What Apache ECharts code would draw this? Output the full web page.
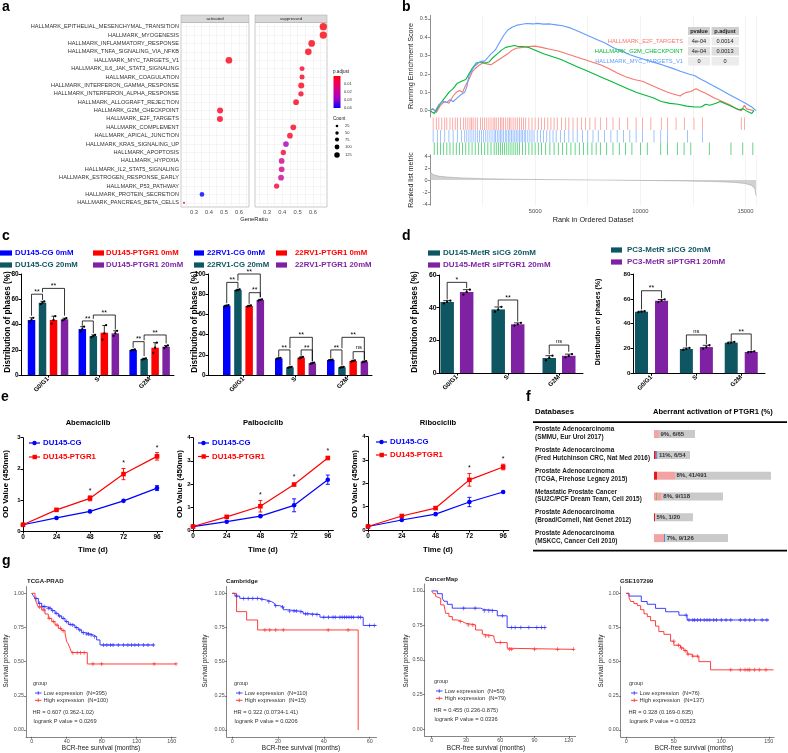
<!DOCTYPE html>
<html>
<head>
<meta charset="utf-8">
<title>Figure</title>
<script src="https://cdn.jsdelivr.net/npm/echarts@6.0.0/dist/echarts.min.js"></script>
<style>
html,body{margin:0;padding:0;background:#fff;}
#chart{width:788px;height:753px;}
</style>
</head>
<body>
<div id="chart"></div>
<script>
// ================= DATA =================
// ---- panel a ----
const aTerms = ['HALLMARK_EPITHELIAL_MESENCHYMAL_TRANSITION','HALLMARK_MYOGENESIS','HALLMARK_INFLAMMATORY_RESPONSE','HALLMARK_TNFA_SIGNALING_VIA_NFKB','HALLMARK_MYC_TARGETS_V1','HALLMARK_IL6_JAK_STAT3_SIGNALING','HALLMARK_COAGULATION','HALLMARK_INTERFERON_GAMMA_RESPONSE','HALLMARK_INTERFERON_ALPHA_RESPONSE','HALLMARK_ALLOGRAFT_REJECTION','HALLMARK_G2M_CHECKPOINT','HALLMARK_E2F_TARGETS','HALLMARK_COMPLEMENT','HALLMARK_APICAL_JUNCTION','HALLMARK_KRAS_SIGNALING_UP','HALLMARK_APOPTOSIS','HALLMARK_HYPOXIA','HALLMARK_IL2_STAT5_SIGNALING','HALLMARK_ESTROGEN_RESPONSE_EARLY','HALLMARK_P53_PATHWAY','HALLMARK_PROTEIN_SECRETION','HALLMARK_PANCREAS_BETA_CELLS'];
const aPanel = ['s','s','s','s','a','s','s','s','s','s','a','a','s','s','s','s','s','s','s','s','a','a'];
const aGeneRatio = [0.668,0.668,0.592,0.570,0.533,0.529,0.529,0.524,0.522,0.490,0.474,0.473,0.472,0.450,0.424,0.407,0.396,0.396,0.392,0.363,0.353,0.233];
const aCount = [190,190,168,165,168,107,107,143,118,132,143,143,132,132,132,118,132,132,132,118,96,5];
const aPadj = [0.001,0.001,0.002,0.002,0.002,0.004,0.003,0.002,0.004,0.003,0.003,0.003,0.003,0.004,0.027,0.006,0.017,0.018,0.019,0.006,0.040,0.016];
const aPadjTicks = [0.01,0.02,0.03,0.04];
const aCountTicks = [25,50,75,100,125];
const aRatioTicks = [0.3,0.4,0.5,0.6];

// ---- panel b ----
const bE2F = [[0,0],[150,0.01],[300,-0.01],[500,0.03],[700,0.05],[900,0.04],[1100,0.08],[1250,0.1],[1400,0.11],[1550,0.1],[1700,0.14],[1850,0.17],[2000,0.21],[2150,0.23],[2300,0.245],[2500,0.26],[2700,0.255],[2900,0.25],[3100,0.265],[3300,0.28],[3500,0.295],[3700,0.31],[3900,0.33],[4100,0.34],[4400,0.345],[4700,0.35],[5000,0.352],[5300,0.345],[5700,0.335],[6100,0.325],[6500,0.31],[6900,0.295],[7300,0.28],[7700,0.265],[8100,0.25],[8500,0.23],[8900,0.205],[9300,0.185],[9700,0.17],[10100,0.16],[10500,0.14],[10900,0.12],[11300,0.1],[11600,0.09],[11900,0.08],[12000,0.09],[12200,0.1],[12400,0.105],[12650,0.12],[12800,0.11],[13100,0.095],[13500,0.07],[13900,0.05],[14300,0.03],[14550,0.01],[14800,0.0],[14950,0.03],[15050,0.01],[15400,0.0]];
const bG2M = [[0,0],[200,-0.015],[350,0.01],[500,0.04],[700,0.07],[900,0.1],[1100,0.12],[1300,0.15],[1500,0.16],[1700,0.17],[1850,0.2],[2000,0.23],[2200,0.26],[2400,0.265],[2600,0.26],[2800,0.265],[3000,0.29],[3200,0.31],[3400,0.33],[3600,0.345],[3800,0.35],[4000,0.355],[4200,0.35],[4400,0.35],[4700,0.345],[5000,0.33],[5400,0.31],[5800,0.295],[6200,0.28],[6600,0.26],[7000,0.24],[7400,0.22],[7800,0.2],[8200,0.18],[8600,0.16],[9000,0.14],[9400,0.12],[9800,0.1],[10200,0.085],[10600,0.07],[11000,0.05],[11400,0.04],[11800,0.035],[12200,0.025],[12600,0.02],[12900,0.02],[13100,0.035],[13300,0.03],[13600,0.04],[13800,0.05],[14100,0.035],[14400,0.02],[14700,0.005],[14900,0.01],[15100,-0.005],[15300,-0.015],[15400,0.0]];
const bMYC = [[0,0],[100,0.01],[250,0.0],[400,0.03],[600,0.05],[800,0.045],[950,0.06],[1100,0.05],[1300,0.07],[1500,0.09],[1650,0.1],[1750,0.13],[1850,0.19],[1950,0.21],[2100,0.24],[2300,0.26],[2450,0.27],[2600,0.27],[2750,0.29],[2900,0.31],[3100,0.33],[3300,0.37],[3500,0.41],[3700,0.44],[3900,0.455],[4100,0.465],[4300,0.47],[4600,0.475],[4900,0.473],[5100,0.476],[5400,0.472],[5700,0.473],[6000,0.468],[6300,0.463],[6700,0.45],[7100,0.43],[7500,0.41],[7900,0.39],[8300,0.37],[8700,0.345],[9100,0.325],[9500,0.305],[9900,0.29],[10300,0.275],[10700,0.262],[11100,0.248],[11500,0.232],[11900,0.215],[12300,0.2],[12600,0.19],[12750,0.18],[12900,0.17],[13000,0.165],[13400,0.14],[13800,0.115],[14200,0.09],[14600,0.065],[15000,0.04],[15300,0.02],[15500,0.0]];
const bRugE2F = [150,300,420,560,700,800,950,1080,1200,1300,1450,1600,1700,1800,1900,1980,2050,2150,2250,2400,2500,2600,2700,2800,2900,3000,3080,3150,3250,3350,3420,3500,3600,3700,3780,3850,3950,4050,4150,4250,4350,4450,4550,4700,4850,5000,5150,5300,5450,5600,5750,5900,6050,6250,6450,6600,6800,7000,7200,7400,7600,7850,8100,8400,8700,9000,9400,9800,10100,10500,11000,11300,11700,12100,12550,12950,14800,14950];
const bRugMYC = [150,350,500,700,900,1100,1300,1500,1650,1750,1850,1950,2050,2150,2250,2350,2450,2550,2650,2750,2850,2950,3050,3120,3200,3280,3350,3420,3500,3580,3650,3730,3800,3880,3950,4030,4100,4180,4250,4330,4400,4480,4550,4650,4750,4850,4950,5100,5250,5400,5550,5700,5850,6000,6200,6400,6600,6800,7000,7250,7500,7750,8000,8300,8600,8900,9200,9500,9800,10100,10650,10970,11290,12240,12960];
const bRugG2M = [200,350,500,650,800,950,1100,1250,1400,1550,1700,1850,2000,2150,2300,2450,2600,2750,2900,3050,3150,3250,3350,3450,3550,3650,3750,3850,3950,4050,4150,4250,4400,4550,4700,4850,5000,5150,5300,5500,5700,5900,6100,6300,6500,6700,6900,7100,7300,7500,7700,7900,8100,8400,8700,9000,9300,9600,10010,10330,10970,11290,11760,12080,12400,13280,14310,14870,15350];
const bMetric = [[0,1.6],[50,1.2],[150,0.9],[400,0.65],[800,0.5],[1500,0.35],[2500,0.22],[4000,0.12],[6000,0.05],[8000,0.0],[10000,-0.07],[12000,-0.15],[13500,-0.25],[14500,-0.4],[15000,-0.6],[15300,-0.9],[15450,-1.5],[15500,-2.6]];
const bTableHead = ['pvalue','p.adjust'];
const bTableRows = [['HALLMARK_E2F_TARGETS','4e-04','0.0014'],['HALLMARK_G2M_CHECKPOINT','4e-04','0.0013'],['HALLMARK_MYC_TARGETS_V1','0','0']];
const bESTicks = [0,0.1,0.2,0.3,0.4,0.5];
const bMetricTicks = [-4,-2,0,2,4];

// ---- panels c, d (replicate values per phase) ----
const phaseCats = ['G0/G1','S','G2M'];
const du145CG0  = [[41.8,43.6,45.3],[34.5,36.4,38.3],[19.4,19.8,20.2]];
const du145CG20 = [[56.1,57.3,58.3],[29.9,30.9,31.7],[12.2,12.7,13.2]];
const du145PT0  = [[40.6,43.6,46.6],[28.0,33.0,39.5],[17.6,21.6,25.6]];
const du145PT20 = [[43.2,44.1,45.0],[31.0,33.0,35.0],[21.4,22.4,23.4]];
const rv1CG0  = [[68.1,68.6,69.1],[16.0,16.5,17.0],[14.5,14.9,15.3]];
const rv1CG20 = [[83.6,84.2,84.8],[7.1,7.6,8.1],[7.1,7.6,8.1]];
const rv1PT0  = [[67.7,68.3,68.9],[16.4,17.2,17.9],[13.3,13.9,14.5]];
const rv1PT20 = [[73.7,74.3,74.9],[11.0,11.6,12.2],[12.6,13.2,13.8]];
const du145MetCG = [[42.6,43.5,44.3],[37.5,38.8,40.5],[7.8,9.2,10.6]];
const du145MetPT = [[48.0,49.6,51.0],[29.0,29.8,30.7],[9.6,10.4,11.6]];
const pc3MetCG = [[49.2,49.6,50.0],[18.8,19.6,20.4],[24.2,24.7,25.2]];
const pc3MetPT = [[57.3,58.3,59.5],[19.8,21.0,22.6],[16.8,17.2,17.6]];
// brackets: [phase, barA, barB, top, legA end, legB end, label]
const brDU145 = [[0,0,1,64,47,59.5,'**'],[0,1,3,68.6,65.5,47,'**'],[1,0,1,42.8,39,33,'**'],[1,1,3,47.5,44.5,36,'**'],[2,0,1,26.4,21.5,15,'**'],[2,1,3,31.7,27.5,25,'**']];
const br22RV1 = [[0,0,1,91.7,71,86,'**'],[0,1,3,100,93.5,77,'**'],[0,2,3,81.5,70.5,77,'**'],[1,0,1,24.8,18,9.5,'**'],[1,1,3,37.3,26.5,13.5,'**'],[1,2,3,24.8,19,13.5,'**'],[2,0,1,24.8,16.5,9.5,'**'],[2,1,3,37.3,26.5,15,'**'],[2,2,3,23.1,15.5,15,'ns']];
const brDU145Met = [[0,0,1,55.5,45,52,'*'],[1,0,1,44.7,41,31.5,'**'],[2,0,1,17.1,11.5,13,'ns']];
const brPC3Met = [[0,0,1,66.5,51.5,60.5,'**'],[1,0,1,30.9,21.5,23.5,'ns'],[2,0,1,31.7,26,18.5,'**']];

// ---- panel e ----
const eTime = [0,24,48,72,96];
const abeCG = [0.2,0.42,0.63,0.97,1.38],  abeCGsd = [0.02,0.02,0.03,0.05,0.08];
const abePT = [0.2,0.68,1.05,1.83,2.4],   abePTsd = [0.02,0.03,0.08,0.18,0.12], abeSig = [0,0,1,1,1];
const palCG = [0.15,0.36,0.6,1.07,2.18],  palCGsd = [0.02,0.02,0.03,0.28,0.2];
const palPT = [0.15,0.57,1.03,1.97,3.12], palPTsd = [0.02,0.03,0.25,0.08,0.06], palSig = [0,0,1,1,1];
const ribCG = [0.15,0.43,0.68,1.2,1.63],  ribCGsd = [0.02,0.02,0.03,0.2,0.06];
const ribPT = [0.15,0.6,0.94,2.15,2.7],   ribPTsd = [0.02,0.03,0.04,0.27,0.12], ribSig = [0,0,0,1,1];

// ---- panel f ----
const fDatasets = [['Prostate Adenocarcinoma','(SMMU, Eur Urol 2017)'],['Prostate Adenocarcinoma','(Fred Hutchinson CRC, Nat Med 2016)'],['Prostate Adenocarcinoma','(TCGA, Firehose Legacy 2015)'],['Metastatic Prostate Cancer','(SU2C/PCF Dream Team, Cell 2015)'],['Prostate Adenocarcinoma','(Broad/Cornell, Nat Genet 2012)'],['Prostate Adenocarcinoma','(MSKCC, Cancer Cell 2010)']];
const fPercent = ['9%','11%','8%','8%','5%','7%'];
const fAltered = [6,6,41,9,1,9];
const fTotal = [65,54,491,118,20,126];
const fBarLength = [41,36,117,69,39,74];
const fSegments = [[[5,'#f4a3a3']],[[1.5,'#e41a1c'],[1,'#6a3d9a'],[1,'#377eb8']],[[3,'#e41a1c'],[18,'#f4a3a3']],[[2,'#f4a3a3'],[0.8,'#4daf4a'],[5,'#f4a3a3']],[[1,'#e41a1c']],[[10,'#f4a3a3'],[1.2,'#4a90d9']]];

// ---- panel g (Kaplan-Meier: [time, survival]) ----
const tcgaLow  = [[0,1],[1.9,0.983],[3.8,0.963],[7.6,0.927],[11.4,0.902],[17.1,0.89],[22.9,0.873],[26.7,0.854],[30.5,0.834],[34.3,0.817],[38.1,0.793],[41.9,0.773],[45.7,0.768],[49.5,0.749],[53.3,0.732],[57.1,0.712],[61,0.702],[66.7,0.695],[70.5,0.683],[74.3,0.659],[78.1,0.622],[140,0.622]];
const tcgaHigh = [[0,1],[3.8,0.963],[5.7,0.927],[7.6,0.9],[11.4,0.878],[15.2,0.849],[19,0.817],[22.9,0.793],[26.7,0.768],[30.5,0.744],[34.3,0.727],[38.1,0.707],[40,0.646],[41.9,0.629],[43.8,0.598],[45.7,0.566],[63.6,0.483],[165,0.483]];
const tcgaLowCens  = [5,9,13,15,19,21,24,28,32,36,40,44,47,51,55,59,63,65,68,72,82,86,90,93,99,105,110,114,118,122,128,133,139];
const tcgaHighCens = [9,14,20,25,29,33,36,47,52,56,60,70,80,140,165];
const camLow  = [[0,1],[1.2,0.98],[3.3,0.963],[12.1,0.956],[13.5,0.951],[15,0.939],[17.2,0.925],[18.6,0.91],[20.8,0.9],[22.3,0.88],[24,0.87],[29.5,0.865],[31,0.85],[34.6,0.845],[38.3,0.825],[57.2,0.765],[63,0.765]];
const camHigh = [[0,1],[1.9,0.866],[6.3,0.805],[11.1,0.732],[55,0]];
const camLowCens  = [2,5,7,9,11,13,16,19,22,25,27,28,30,32,33,35,37,40,42,44,45,47,48,49,50,51,52,53,55,56,60,62];
const camHighCens = [14.3,16.4,19,22.3,41.9,50.6];
const cmLow  = [[0,1],[5,0.98],[9.3,0.947],[10.8,0.925],[13.7,0.903],[18,0.875],[42.8,0.865],[45.7,0.857],[57.4,0.82],[66,0.735],[99.6,0.735]];
const cmHigh = [[0,1],[1.5,0.98],[3.5,0.96],[5,0.947],[7.9,0.899],[10.8,0.886],[12.2,0.838],[15.1,0.814],[18.1,0.79],[22.4,0.778],[26.8,0.766],[29.7,0.754],[38.4,0.717],[44.3,0.688],[45.7,0.674],[54.5,0.657],[55.9,0.626],[66.1,0.585],[67,0.577],[124.4,0.577]];
const cmLowCens  = [28,38,46,50,53,62,70,73,78,85,92,96,99];
const cmHighCens = [25,32,36,47,50,60,68,70,90,110,124];
const gseLow  = [[0,1],[2.8,0.98],[15.8,0.94],[22,0.92],[30.8,0.89],[41.4,0.865],[55.4,0.84],[64,0.805],[150,0.805]];
const gseHigh = [[0,1],[2.8,0.97],[4.6,0.94],[8.1,0.925],[11.6,0.91],[15.1,0.88],[18.6,0.85],[22.1,0.83],[25.6,0.8],[30.8,0.76],[34.3,0.72],[39.6,0.7],[46.6,0.65],[50.1,0.62],[57.1,0.6],[60.6,0.58],[64.1,0.555],[69.4,0.54],[76.4,0.5],[88.7,0.44],[155,0.44]];
const gseLowCens  = [63,66,70,72,75,78,82,85,88,92,95,100,105,110,120,125,130,135,143,148];
const gseHighCens = [50,55,58,62,65,70,75,110,120,125,128,130,135,140,147];
const kmYTicks = [0,0.25,0.5,0.75,1];

// ================= BUILD =================
const FONT = '"Liberation Sans", Arial, Helvetica, sans-serif';
const grids = [], xAxes = [], yAxes = [], series = [], graphics = [];
const BLUE = '#0000ff', TEAL = '#0d5662', RED = '#ff0000', PURPLE = '#7e22a3';

function mean(a){ return a.reduce((s,v)=>s+v,0)/a.length; }
function sdev(a){ const m = mean(a); return Math.sqrt(a.reduce((s,v)=>s+(v-m)*(v-m),0)/(a.length-1)); }
function addGrid(g, xa, ya){
  grids.push(Object.assign({outerBoundsMode:'none', containLabel:false}, g));
  const i = grids.length - 1;
  xAxes.push(Object.assign({gridIndex:i}, xa));
  yAxes.push(Object.assign({gridIndex:i}, ya));
  return i;
}
function T(x, y, text, st, rot){
  const el = {type:'text', x:x, y:y, z:100, silent:true,
    style:Object.assign({text:text, fontFamily:FONT, fontSize:6, fill:'#000', align:'left', verticalAlign:'middle'}, st || {})};
  if (rot) el.rotation = rot;
  graphics.push(el);
}
function R(x, y, w, h, fill, extra){
  graphics.push(Object.assign({type:'rect', z:99, silent:true, shape:{x:x, y:y, width:w, height:h}, style:{fill:fill}}, extra || {}));
}
const V = Math.PI/2;

// ---------- panel a ----------
const aSize = c => 2 + 0.028*c;
const aColors = ['#ff0000','#ec0062','#c8009c','#9200cc','#0000ff'];
const aIdx = aTerms.map((_, i) => i);
function aGrid(left, width, xmin, xmax, showLabels){
  return addGrid({left:left, top:22.5, width:width, height:184.5, show:true, borderColor:'#a6a6a6', borderWidth:0.6, backgroundColor:'#fff'},
    {type:'value', min:xmin, max:xmax,
     axisLine:{show:false, onZero:false}, axisTick:{show:false, customValues:[0.25,0.3,0.35,0.4,0.45,0.5,0.55,0.6,0.65]},
     axisLabel:{customValues:aRatioTicks, formatter:v=>v.toFixed(1), fontSize:5.8, color:'#4d4d4d', margin:2, fontFamily:FONT},
     splitLine:{show:true, lineStyle:{color:'#ebebeb', width:0.5}}},
    {type:'value', inverse:true, min:-0.5, max:21.5,
     axisLine:{show:false, onZero:false}, axisTick:{show:false, customValues:aIdx},
     axisLabel:{show:showLabels, customValues:aIdx, formatter:v=>aTerms[Math.round(v)], fontSize:5.6, color:'#333', margin:2, fontFamily:FONT},
     splitLine:{show:true, lineStyle:{color:'#ebebeb', width:0.5}}});
}
const aG1 = aGrid(181, 68, 0.213, 0.667, true);
const aG2 = aGrid(255, 72, 0.222, 0.692, false);
const aSer = [];
[['a', aG1], ['s', aG2]].forEach(([p, gi]) => {
  const d = [];
  aTerms.forEach((t, i) => { if (aPanel[i] === p) d.push([aGeneRatio[i], i, aPadj[i], aCount[i]]); });
  aSer.push(series.length);
  series.push({type:'scatter', xAxisIndex:gi, yAxisIndex:gi, data:d, symbolSize:v => aSize(v[3]), z:5});
});
R(181, 15, 68, 7.5, '#d9d9d9', {style:{fill:'#d9d9d9', stroke:'#a6a6a6', lineWidth:0.5}});
R(255, 15, 72, 7.5, '#d9d9d9', {style:{fill:'#d9d9d9', stroke:'#a6a6a6', lineWidth:0.5}});
T(215, 18.8, 'activated', {fontSize:4.3, align:'center', fill:'#1a1a1a'});
T(291, 18.8, 'suppressed', {fontSize:4.3, align:'center', fill:'#1a1a1a'});
T(254, 219, 'GeneRatio', {fontSize:5.8, align:'center', fill:'#1a1a1a'});
T(333, 72, 'p.adjust', {fontSize:4.6, fill:'#1a1a1a'});
graphics.push({type:'rect', z:99, silent:true, shape:{x:333.5, y:76, width:7, height:32},
  style:{fill:new echarts.graphic.LinearGradient(0,0,0,1, aColors.map((c,i)=>({offset:i/(aColors.length-1), color:c})))}});
aPadjTicks.forEach(v => T(344, 76 + v/0.04*32, String(v), {fontSize:4, fill:'#333'}));
T(333, 119, 'Count', {fontSize:4.6, fill:'#1a1a1a'});
aCountTicks.forEach((c, i) => {
  const cy = [126, 133, 139.5, 147, 155][i];
  graphics.push({type:'circle', z:99, silent:true, shape:{cx:337, cy:cy, r:aSize(c)/2}, style:{fill:'#000'}});
  T(345, cy, String(c), {fontSize:4, fill:'#333'});
});

// ---------- panel b ----------
const bTop = addGrid({left:430, top:15.3, width:326, height:101.8},
  {type:'value', min:0, max:15500, interval:2500, axisLine:{show:false, onZero:false}, axisTick:{show:false}, axisLabel:{show:false}, splitLine:{show:true, lineStyle:{color:'#ebebeb', width:0.6}}},
  {type:'value', min:-0.035, max:0.52, axisLine:{show:true, onZero:false, lineStyle:{color:'#4d4d4d', width:0.6}},
   axisTick:{show:true, length:2, customValues:bESTicks, lineStyle:{color:'#4d4d4d', width:0.6}},
   axisLabel:{customValues:bESTicks, formatter:v=>v.toFixed(1), fontSize:5.5, color:'#4d4d4d', margin:2.5, fontFamily:FONT}, splitLine:{show:false}});
[[bE2F,'#f8766d'],[bG2M,'#00ba38'],[bMYC,'#619cff']].forEach(([d, c]) => series.push({type:'line', xAxisIndex:bTop, yAxisIndex:bTop, data:d, symbol:'none', lineStyle:{color:c, width:1.1}, itemStyle:{color:c}, z:3}));
const bRug = addGrid({left:430, top:117.5, width:326, height:37.5},
  {type:'value', min:0, max:15500, show:false, axisLine:{onZero:false}}, {type:'value', min:0, max:3, show:false, axisLine:{onZero:false}});
[[bRugE2F, 2.5, '#f8766d'], [bRugMYC, 1.5, '#619cff'], [bRugG2M, 0.5, '#00ba38']].forEach(([r, y, c]) =>
  series.push({type:'scatter', xAxisIndex:bRug, yAxisIndex:bRug, data:r.map(v => [v, y]), symbol:'rect', symbolSize:[0.8, 12.3], itemStyle:{color:c, opacity:0.75}}));
const bMet = addGrid({left:430, top:154.8, width:326, height:50.4},
  {type:'value', min:0, max:15500, interval:2500, axisLine:{show:false, onZero:false}, axisTick:{show:false},
   axisLabel:{formatter:v => (v > 0 && v % 5000 === 0) ? String(v) : '', fontSize:5.8, color:'#4d4d4d', margin:3, fontFamily:FONT},
   splitLine:{show:true, lineStyle:{color:'#ebebeb', width:0.6}}},
  {type:'value', min:-4.2, max:4.2, axisLine:{show:true, onZero:false, lineStyle:{color:'#4d4d4d', width:0.6}},
   axisTick:{show:true, length:2, customValues:bMetricTicks, lineStyle:{color:'#4d4d4d', width:0.6}},
   axisLabel:{customValues:bMetricTicks, fontSize:5.5, color:'#4d4d4d', margin:2.5, fontFamily:FONT}, splitLine:{show:false}});
series.push({type:'line', xAxisIndex:bMet, yAxisIndex:bMet, data:bMetric, symbol:'none', lineStyle:{color:'#9a9a9a', width:0.5}, areaStyle:{color:'#bdbdbd', origin:0}});
T(411, 66, 'Running Enrichment Score', {fontSize:7.2, align:'center', fill:'#1a1a1a'}, V);
T(411, 180, 'Ranked list metric', {fontSize:7, align:'center', fill:'#1a1a1a'}, V);
T(593, 220, 'Rank in Ordered Dataset', {fontSize:7.3, align:'center', fill:'#1a1a1a'});
R(688, 27, 22, 8, '#cfcfcf'); R(711.5, 27, 27.5, 8, '#cfcfcf');
T(699, 31, bTableHead[0], {fontSize:5.6, fontWeight:'bold', align:'center', fill:'#1a1a1a'});
T(725, 31, bTableHead[1], {fontSize:5.6, fontWeight:'bold', align:'center', fill:'#1a1a1a'});
const bRowCol = ['#f8766d', '#00ba38', '#619cff'];
bTableRows.forEach((r, i) => {
  const y = 37 + i*10;
  const bg = i === 1 ? '#dedede' : '#ececec';
  R(688, y, 22, 8.5, bg); R(711.5, y, 27.5, 8.5, bg);
  T(683, y + 4.3, r[0], {fontSize:5.8, align:'right', fill:bRowCol[i]});
  T(699, y + 4.3, r[1], {fontSize:5.6, align:'center', fill:'#1a1a1a'});
  T(725, y + 4.3, r[2], {fontSize:5.6, align:'center', fill:'#1a1a1a'});
});

// ---------- panels c, d ----------
function barPanel(p){
  const gi = addGrid({left:p.left, top:p.top, width:p.width, height:p.height},
    {type:'value', min:p.xmin, max:p.xmax, axisLine:{show:true, onZero:false, lineStyle:{color:'#000', width:1}},
     axisTick:{show:true, customValues:[0,1,2], length:2.5, lineStyle:{color:'#000', width:1}},
     axisLabel:{customValues:[0,1,2], formatter:v => phaseCats[Math.round(v)], rotate:45, fontSize:6.3, fontWeight:'bold', color:'#000', margin:3, fontFamily:FONT},
     splitLine:{show:false}},
    {type:'value', min:0, max:p.ymax, interval:20, axisLine:{show:true, onZero:false, lineStyle:{color:'#000', width:1}},
     axisTick:{show:true, length:2.5, lineStyle:{color:'#000', width:1}},
     axisLabel:{fontSize:p.yfs || 6.4, fontWeight:'bold', color:'#000', margin:2.5, fontFamily:FONT}, splitLine:{show:false}});
  const n = p.groups.length;
  p.groups.forEach((g, k) => {
    const data = g.reps.map((r, c) => [c, mean(r), sdev(r), r[0], r[1], r[2]]);
    series.push({type:'custom', xAxisIndex:gi, yAxisIndex:gi, encode:{x:0, y:1}, data:data, z:3,
      renderItem:(params, api) => {
        const c = api.value(0), m = api.value(1), s = api.value(2);
        const base = api.coord([c, 0]), top = api.coord([c, m]), et = api.coord([c, m + s]);
        const cx = base[0] + (k - (n - 1)/2) * p.step;
        const ch = [
          {type:'rect', shape:{x:cx - p.bw/2, y:top[1], width:p.bw, height:base[1] - top[1]}, style:{fill:g.c}},
          {type:'line', shape:{x1:cx, y1:top[1], x2:cx, y2:et[1]}, style:{stroke:'#000', lineWidth:0.8}},
          {type:'line', shape:{x1:cx - p.bw*0.28, y1:et[1], x2:cx + p.bw*0.28, y2:et[1]}, style:{stroke:'#000', lineWidth:0.8}}
        ];
        [3, 4, 5].forEach((d, j) => {
          const pt = api.coord([c, api.value(d)]);
          ch.push({type:'circle', shape:{cx:cx + (j - 1)*p.bw*0.24, cy:pt[1], r:1.15}, style:{fill:'#000'}});
        });
        return {type:'group', children:ch};
      }});
  });
  series.push({type:'custom', xAxisIndex:gi, yAxisIndex:gi, encode:{x:0, y:1}, data:p.brackets.map(b => [b[0], b[3]]), z:4,
    renderItem:(params, api) => {
      const b = p.brackets[params.dataIndex];
      const xc = api.coord([b[0], 0])[0];
      const xi = xc + (b[1] - (n - 1)/2) * p.step, xj = xc + (b[2] - (n - 1)/2) * p.step;
      const yt = api.coord([b[0], b[3]])[1], yi = api.coord([b[0], b[4]])[1], yj = api.coord([b[0], b[5]])[1];
      const ns = b[6] === 'ns';
      return {type:'group', children:[
        {type:'polyline', shape:{points:[[xi, yi], [xi, yt], [xj, yt], [xj, yj]]}, style:{stroke:'#000', fill:null, lineWidth:0.8}},
        {type:'text', style:{text:b[6], x:(xi + xj)/2, y:yt - (ns ? 0.8 : -1.2), align:'center', verticalAlign:'bottom', fontSize:ns ? 5.8 : 7, fontFamily:FONT, fill:'#000'}}
      ]};
    }});
}
barPanel({left:21, top:274, width:153, height:101, xmin:-0.532, xmax:2.48, ymax:80, bw:7.5, step:11,
  groups:[{c:BLUE, reps:du145CG0}, {c:TEAL, reps:du145CG20}, {c:RED, reps:du145PT0}, {c:PURPLE, reps:du145PT20}], brackets:brDU145});
barPanel({left:208, top:274, width:164, height:101, xmin:-0.683, xmax:2.47, ymax:100, bw:7.5, step:11.2,
  groups:[{c:BLUE, reps:rv1CG0}, {c:TEAL, reps:rv1CG20}, {c:RED, reps:rv1PT0}, {c:PURPLE, reps:rv1PT20}], brackets:br22RV1});
barPanel({left:439, top:275, width:144, height:98, xmin:-0.351, xmax:2.47, ymax:60, bw:13.5, step:19.5, yfs:6.8,
  groups:[{c:TEAL, reps:du145MetCG}, {c:PURPLE, reps:du145MetPT}], brackets:brDU145Met});
barPanel({left:633, top:274, width:132, height:99.3, xmin:-0.413, xmax:2.53, ymax:80, bw:13, step:20, yfs:6.2,
  groups:[{c:TEAL, reps:pc3MetCG}, {c:PURPLE, reps:pc3MetPT}], brackets:brPC3Met});
function legBox(x, y, w, col, text, tx, fs){
  R(x, y - 2.6, w, 5.2, col);
  T(tx, y, text, {fontSize:fs || 7.8, fontWeight:'bold', fill:col});
}
legBox(0, 253, 12, BLUE, 'DU145-CG 0mM', 15); legBox(93, 253, 11, RED, 'DU145-PTGR1 0mM', 106);
legBox(0, 265, 12, TEAL, 'DU145-CG 20mM', 15); legBox(93, 265, 11, PURPLE, 'DU145-PTGR1 20mM', 106);
legBox(194, 253, 10, BLUE, '22RV1-CG 0mM', 207); legBox(276, 253, 11, RED, '22RV1-PTGR1 0mM', 295);
legBox(194, 265, 10, TEAL, '22RV1-CG 20mM', 207); legBox(276, 265, 11, PURPLE, '22RV1-PTGR1 20mM', 295);
legBox(428, 253, 12, TEAL, 'DU145-MetR siCG 20mM', 443, 8); legBox(428, 265, 12, PURPLE, 'DU145-MetR siPTGR1 20mM', 443, 8);
legBox(611, 250, 11, TEAL, 'PC3-MetR siCG 20mM', 627, 8); legBox(611, 262, 11, PURPLE, 'PC3-MetR siPTGR1 20mM', 627, 8);
T(8, 322, 'Distribution of phases (%)', {fontSize:8.2, fontWeight:'bold', align:'center'}, V);
T(195, 322, 'Distribution of phases (%)', {fontSize:8.2, fontWeight:'bold', align:'center'}, V);
T(415, 322, 'Distribution of phases (%)', {fontSize:8.2, fontWeight:'bold', align:'center'}, V);
T(598, 322, 'Distribution of phases (%)', {fontSize:7, fontWeight:'bold', align:'center'}, V);

// ---------- panel e ----------
function linePanel(p){
  const gi = addGrid({left:p.left, top:p.top, width:p.width, height:p.height},
    {type:'value', min:0, max:100, axisLine:{show:true, onZero:false, lineStyle:{color:'#000', width:1}},
     axisTick:{show:true, customValues:eTime, length:2.5, lineStyle:{color:'#000', width:1}},
     axisLabel:{customValues:eTime, fontSize:6.5, fontWeight:'bold', color:'#000', margin:3, fontFamily:FONT}, splitLine:{show:false}},
    {type:'value', min:0, max:p.ymax, interval:1, axisLine:{show:true, onZero:false, lineStyle:{color:'#000', width:1}},
     axisTick:{show:true, length:2.5, lineStyle:{color:'#000', width:1}},
     axisLabel:{fontSize:6, fontWeight:'bold', color:'#000', margin:2.5, fontFamily:FONT}, splitLine:{show:false}});
  p.lines.forEach(L => {
    series.push({type:'line', xAxisIndex:gi, yAxisIndex:gi, data:eTime.map((t, i) => [t, L.v[i]]), symbol:L.sym, symbolSize:4.6,
      lineStyle:{color:L.c, width:1.2}, itemStyle:{color:L.c}, z:4});
    series.push({type:'custom', xAxisIndex:gi, yAxisIndex:gi, encode:{x:0, y:1}, z:5,
      data:eTime.map((t, i) => [t, L.v[i], L.sd[i], L.sig ? L.sig[i] : 0]),
      renderItem:(params, api) => {
        const t = api.value(0), v = api.value(1), s = api.value(2), g = api.value(3);
        const lo = api.coord([t, v - s]), hi = api.coord([t, v + s]);
        const ch = [];
        if (lo[1] - hi[1] > 4) {
          ch.push({type:'line', shape:{x1:hi[0], y1:lo[1], x2:hi[0], y2:hi[1]}, style:{stroke:L.c, lineWidth:0.9}});
          ch.push({type:'line', shape:{x1:hi[0] - 2, y1:hi[1], x2:hi[0] + 2, y2:hi[1]}, style:{stroke:L.c, lineWidth:0.9}});
          ch.push({type:'line', shape:{x1:hi[0] - 2, y1:lo[1], x2:hi[0] + 2, y2:lo[1]}, style:{stroke:L.c, lineWidth:0.9}});
        }
        if (g) ch.push({type:'text', style:{text:'*', x:hi[0], y:Math.min(hi[1], api.coord([t, v])[1] - 2) - 1.5, align:'center', verticalAlign:'bottom', fontSize:7, fontFamily:FONT, fill:'#000'}});
        return {type:'group', children:ch};
      }});
  });
}
linePanel({left:23, top:437.7, width:139.6, height:93.3, ymax:3, lines:[
  {v:abeCG, sd:abeCGsd, c:BLUE, sym:'circle'}, {v:abePT, sd:abePTsd, c:RED, sym:'rect', sig:abeSig}]});
linePanel({left:193, top:437.7, width:140.4, height:92.3, ymax:4, lines:[
  {v:palCG, sd:palCGsd, c:BLUE, sym:'circle'}, {v:palPT, sd:palPTsd, c:RED, sym:'rect', sig:palSig}]});
linePanel({left:368, top:436.7, width:140.8, height:93.3, ymax:4, lines:[
  {v:ribCG, sd:ribCGsd, c:BLUE, sym:'circle'}, {v:ribPT, sd:ribPTsd, c:RED, sym:'rect', sig:ribSig}]});
function eLeg(x, y, col, sq, text){
  graphics.push({type:'line', z:99, silent:true, shape:{x1:x, y1:y, x2:x + 11, y2:y}, style:{stroke:col, lineWidth:1.2}});
  if (sq) R(x + 3.5, y - 2.2, 4.4, 4.4, col);
  else graphics.push({type:'circle', z:99, silent:true, shape:{cx:x + 5.5, cy:y, r:2.2}, style:{fill:col}});
  T(x + 14, y, text, {fontSize:7.8, fontWeight:'bold', fill:col});
}
[[29, 443, 457], [198, 443, 456.5], [376, 442, 455]].forEach(([x, y1, y2]) => { eLeg(x, y1, BLUE, false, 'DU145-CG'); eLeg(x, y2, RED, true, 'DU145-PTGR1'); });
T(88, 423, 'Abemaciclib', {fontSize:7.6, fontWeight:'bold', align:'center'});
T(263, 423, 'Palbociclib', {fontSize:7.6, fontWeight:'bold', align:'center'});
T(438, 423, 'Ribociclib', {fontSize:7.6, fontWeight:'bold', align:'center'});
[[6], [180], [355]].forEach(([x]) => T(x, 484, 'OD Value (450nm)', {fontSize:8, fontWeight:'bold', align:'center'}, V));
[[93], [263], [438]].forEach(([x]) => T(x, 550, 'Time (d)', {fontSize:7.7, fontWeight:'bold', align:'center'}));

// ---------- panel f ----------
const fG = addGrid({left:654, top:423.7, width:130, height:124.8},
  {type:'value', min:0, max:130, show:false, axisLine:{onZero:false}},
  {type:'category', inverse:true, data:fDatasets.map((_, i) => i), show:false, axisLine:{onZero:false}});
for (let k = 0; k < 3; k++) {
  series.push({type:'bar', stack:'f', xAxisIndex:fG, yAxisIndex:fG, barWidth:8, silent:true,
    data:fSegments.map(s => s[k] ? {value:s[k][0], itemStyle:{color:s[k][1]}} : {value:0})});
}
series.push({type:'bar', stack:'f', xAxisIndex:fG, yAxisIndex:fG, barWidth:8, silent:true, itemStyle:{color:'#cacaca'},
  data:fBarLength.map((L, i) => L - fSegments[i].reduce((s, x) => s + x[0], 0)),
  label:{show:true, position:'insideLeft', distance:1.5, fontSize:6, fontWeight:'bold', color:'#333', fontFamily:FONT,
    formatter:pp => fPercent[pp.dataIndex] + ', ' + fAltered[pp.dataIndex] + '/' + fTotal[pp.dataIndex]}});
T(526, 397, 'f', {fontSize:14, fontWeight:'bold'});
T(535, 412, 'Databases', {fontSize:7.8, fontWeight:'bold'});
T(653, 412, 'Aberrant activation of PTGR1 (%)', {fontSize:7.6, fontWeight:'bold'});
R(533, 421.3, 254, 1.7, '#000');
R(533, 549.8, 254, 1.7, '#000');
fDatasets.forEach((d, i) => {
  const y = 429.5 + i*20.8;
  T(535, y, d[0], {fontSize:6.4, fontWeight:'bold', fill:'#1a1a1a'});
  T(535, y + 7.8, d[1], {fontSize:6.4, fontWeight:'bold', fill:'#1a1a1a'});
});

// ---------- panel g ----------
const plusPath = 'path://M4,0h2v4h4v2h-4v4h-2v-4h-4v-2h4z';
function survAt(d, t){ let s = d[0][1]; d.forEach(p => { if (p[0] <= t) s = p[1]; }); return s; }
function kmPanel(p){
  const axStyle = {color:'#333', width:0.6};
  const gi = addGrid({left:p.left, top:p.top, width:p.width, height:p.height},
    {type:'value', min:p.xmin, max:p.xmax, axisLine:{show:true, onZero:false, lineStyle:axStyle},
     axisTick:{show:true, customValues:p.xt, length:2, lineStyle:axStyle},
     axisLabel:{customValues:p.xt, fontSize:5.4, color:'#4d4d4d', margin:2, fontFamily:FONT}, splitLine:{show:false}},
    {type:'value', min:-0.05, max:1.05, axisLine:{show:true, onZero:false, lineStyle:axStyle},
     axisTick:{show:true, customValues:kmYTicks, length:2, lineStyle:axStyle},
     axisLabel:{customValues:kmYTicks, formatter:v => v.toFixed(2), fontSize:5.3, color:'#4d4d4d', margin:2, fontFamily:FONT}, splitLine:{show:false}});
  [[p.low, p.lowC, '#2a2aff'], [p.high, p.highC, '#ff2a2a']].forEach(([d, cens, col]) => {
    series.push({type:'line', xAxisIndex:gi, yAxisIndex:gi, data:d, step:'end', symbol:'none', lineStyle:{color:col, width:0.9}, z:3});
    series.push({type:'scatter', xAxisIndex:gi, yAxisIndex:gi, data:cens.map(t => [t, survAt(d, t)]), symbol:plusPath, symbolSize:4, itemStyle:{color:col}, z:4});
  });
  T(p.tx, p.ty, p.title, {fontSize:6.1, fontWeight:'bold', fill:'#1a1a1a'});
  T(p.yl, 661, 'Survival probability', {fontSize:6.3, align:'center', fill:'#1a1a1a'}, V);
  T(p.xl, 748, 'BCR-free survival (months)', {fontSize:6.5, align:'center', fill:'#1a1a1a'});
  T(p.gx, p.gy, 'group', {fontSize:5.5, fill:'#333'});
  [[p.nLow, '#2a2aff', 'Low expression'], [p.nHigh, '#ff2a2a', 'High expression']].forEach(([nn, col, lab], i) => {
    const y = p.gy + 10 + i*7.3;
    graphics.push({type:'line', z:99, silent:true, shape:{x1:p.gx + 2, y1:y, x2:p.gx + 8.5, y2:y}, style:{stroke:col, lineWidth:0.9}});
    graphics.push({type:'line', z:99, silent:true, shape:{x1:p.gx + 5.25, y1:y - 1.8, x2:p.gx + 5.25, y2:y + 1.8}, style:{stroke:col, lineWidth:0.8}});
    T(p.gx + 10.5, y, lab + '  (N=' + nn + ')', {fontSize:5.7, fill:'#333'});
  });
  T(p.gx - 0.5, p.gy + 29, 'HR = ' + p.hr, {fontSize:5.7, fill:'#333'});
  T(p.gx + 0.5, p.gy + 38, 'logrank P value = ' + p.pv, {fontSize:5.7, fill:'#333'});
}
kmPanel({left:26, top:586.5, width:150, height:150.3, xmin:-6.5, xmax:165, xt:[0,40,80,120,160],
  low:tcgaLow, lowC:tcgaLowCens, high:tcgaHigh, highC:tcgaHighCens, title:'TCGA-PRAD', tx:27, ty:581, yl:6.5, xl:101,
  gx:33, gy:683, nLow:395, nHigh:100, hr:'0.607 (0.362-1.02)', pv:'0.0269'});
kmPanel({left:226.7, top:586.5, width:149.8, height:150.3, xmin:-2.4, xmax:63, xt:[0,20,40,60],
  low:camLow, lowC:camLowCens, high:camHigh, highC:camHighCens, title:'Cambridge', tx:226, ty:581, yl:205, xl:301,
  gx:234, gy:683, nLow:110, nHigh:15, hr:'0.322 (0.0734-1.41)', pv:'0.0206'});
kmPanel({left:424.7, top:584, width:151, height:152, xmin:-6.1, xmax:126, xt:[0,30,60,90,120],
  low:cmLow, lowC:cmLowCens, high:cmHigh, highC:cmHighCens, title:'CancerMap', tx:425, ty:579, yl:406, xl:486,
  gx:434, gy:681, nLow:50, nHigh:79, hr:'0.455 (0.236-0.875)', pv:'0.0336'});
kmPanel({left:620.7, top:586.5, width:153.3, height:150.3, xmin:-5.9, xmax:155.5, xt:[0,50,100,150],
  low:gseLow, lowC:gseLowCens, high:gseHigh, highC:gseHighCens, title:'GSE107299', tx:620, ty:581, yl:601, xl:694,
  gx:629, gy:683, nLow:76, nHigh:137, hr:'0.328 (0.169-0.635)', pv:'0.00523'});

// panel letters
T(2, 7, 'a', {fontSize:14, fontWeight:'bold'});
T(402, 7.5, 'b', {fontSize:14, fontWeight:'bold'});
T(2, 236, 'c', {fontSize:14, fontWeight:'bold'});
T(402, 236.5, 'd', {fontSize:14, fontWeight:'bold'});
T(1, 397, 'e', {fontSize:14, fontWeight:'bold'});
T(2, 561, 'g', {fontSize:14, fontWeight:'bold'});

const chart = echarts.init(document.getElementById('chart'), null, {renderer:'canvas'});
chart.setOption({
  animation:false, backgroundColor:'#fff', textStyle:{fontFamily:FONT},
  grid:grids, xAxis:xAxes, yAxis:yAxes, series:series,
  visualMap:[{type:'continuous', show:false, seriesIndex:aSer, dimension:2, min:0, max:0.04, inRange:{color:aColors}}],
  graphic:{elements:graphics}
});
</script>
</body>
</html>
